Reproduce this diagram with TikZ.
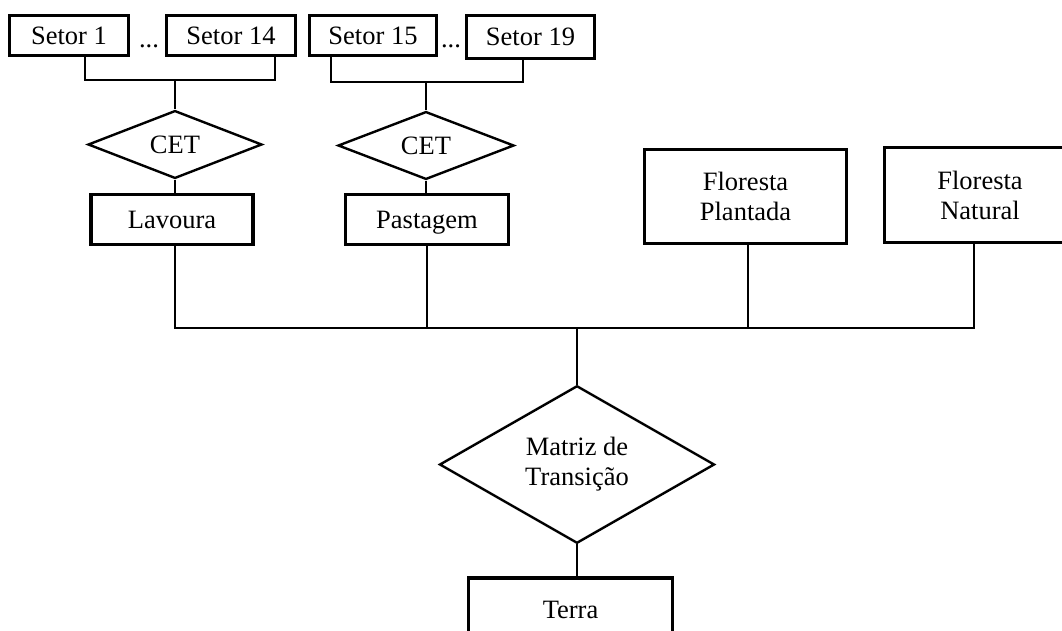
\documentclass[tikz,border=0pt]{standalone}
\usepackage{fontspec}
\setmainfont{Liberation Serif}
\usetikzlibrary{shapes.geometric}
\begin{document}
\begin{tikzpicture}[x=1pt,y=-1pt,
  every node/.style={font=\fontsize{26.5}{30}\selectfont, inner sep=0pt, align=center},
  boxnode/.style={draw, line width=3.4pt, rectangle},
  decision/.style={draw, line width=2.4pt, diamond},
  nodesc/.style={text depth=0pt},
  conn/.style={draw, line width=1.1pt}]
\useasboundingbox (0,0) rectangle (1062,630);
% top sector boxes
\node[boxnode, minimum width=119pt, minimum height=40pt] (s1) at (69,35.5) {Setor 1};
\node (d1) at (149,47) [anchor=base] {...};
\node[boxnode, minimum width=129pt, minimum height=40pt] (s14) at (231,35.5) {Setor 14};
\node[boxnode, minimum width=127pt, minimum height=40pt] (s15) at (373,35.5) {Setor 15};
\node (d2) at (451,47) [anchor=base] {...};
\node[boxnode, minimum width=128pt, minimum height=43pt] (s19) at (530.5,37) {Setor 19};
% CET diamonds
\node[decision, minimum width=174pt, minimum height=55pt] (cet1) at (175,144.5) {CET};
\node[decision, minimum width=176pt, minimum height=53pt] (cet2) at (426,145.5) {CET};
% land use boxes
\node[boxnode, minimum width=162pt, minimum height=50pt] (lav) at (172,219.5) {Lavoura};
\node[boxnode, nodesc, minimum width=163pt, minimum height=50pt] (pas) at (427,219.5) {Pastagem};
\node[boxnode, minimum width=202pt, minimum height=94pt] (fp) at (745.5,196.5) {Floresta\\Plantada};
\node[boxnode, minimum width=191pt, minimum height=95pt] (fn) at (980,195) {Floresta\\Natural};
% transition matrix
\node[decision, minimum width=275pt, minimum height=151pt] (mt) at (577,464.5) {Matriz de\\Transição};
\node[boxnode, minimum width=204pt, minimum height=64pt] (terra) at (570.5,610) {Terra};
% junctions
\coordinate (j1) at (175,80);
\coordinate (j2) at (426,82);
\coordinate (bus) at (577,328);
% brackets
\draw[conn] ([xshift=16pt]s1.south) |- (j1) -| ([xshift=44pt]s14.south);
\draw[conn] ([xshift=-42pt]s15.south) |- (j2) -| ([xshift=-7.5pt]s19.south);
\draw[conn] (j1) -- (cet1.north);
\draw[conn] (j2) -- (cet2.north);
\draw[conn] (cet1.south) -- (cet1.south |- lav.north);
\draw[conn] (cet2.south) -- (cet2.south |- pas.north);
% bus
\draw[conn] (cet1.south |- lav.south) |- (bus);
\draw[conn] (bus) -| ([xshift=-6pt]fn.south);
\draw[conn] (pas.south) -- (pas.south |- bus);
\draw[conn] ([xshift=2.5pt]fp.south) -- ([xshift=2.5pt]fp.south |- bus);
\draw[conn] (bus) -- (mt.north);
\draw[conn] (mt.south) -- (mt.south |- terra.north);
\end{tikzpicture}
\end{document}
